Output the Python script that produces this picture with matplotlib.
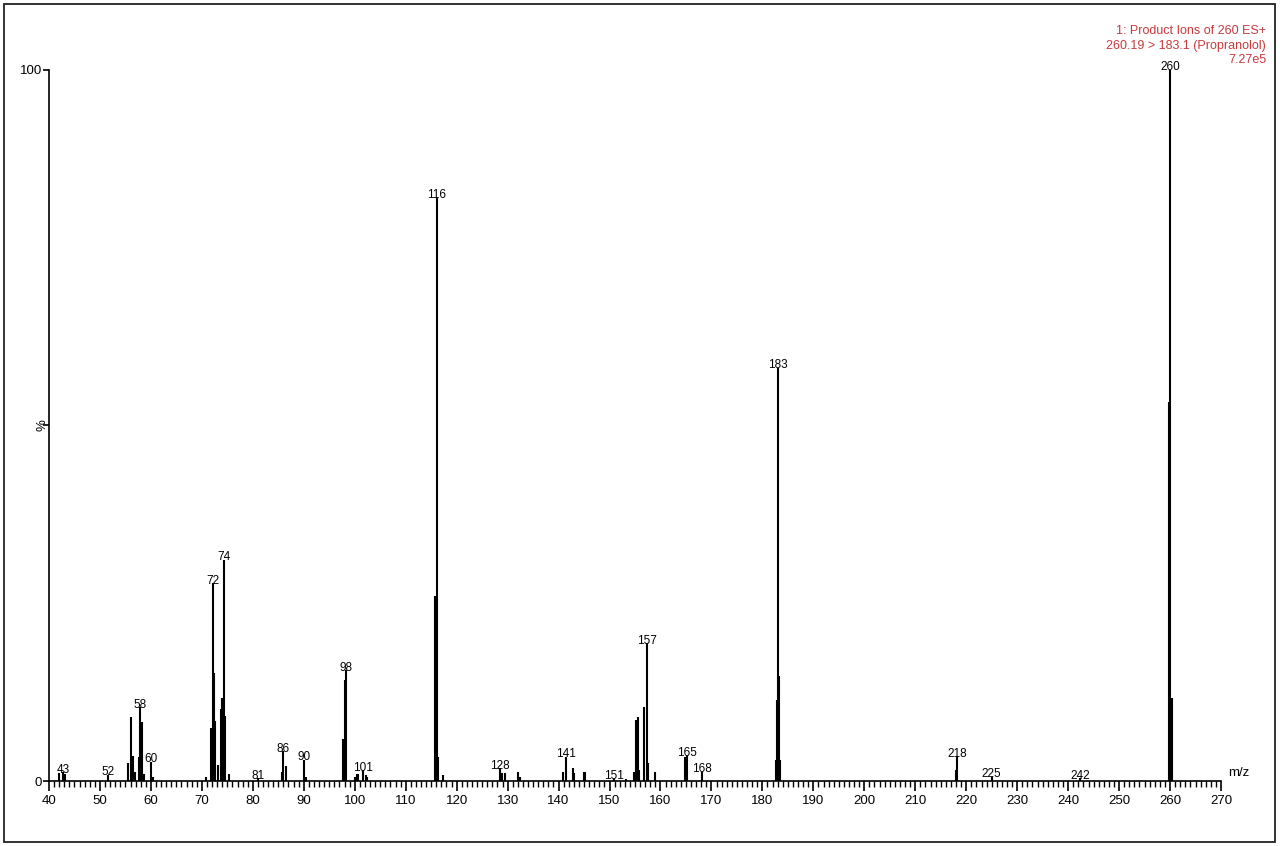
import matplotlib
matplotlib.use('Agg')
import matplotlib.pyplot as plt
from matplotlib.patches import Rectangle
from matplotlib.ticker import MultipleLocator

plt.rcParams['font.family'] = ['Liberation Sans', 'DejaVu Sans']

# ---------- 스펙트럼 데이터 (m/z, 상대강도 %) ----------

mz = [42.0, 42.7, 43.1, 51.6,
      55.6, 56.1, 56.5, 56.9, 57.7, 57.9, 58.3, 58.7, 60.0, 60.5,
      70.9, 71.7, 72.1, 72.4, 72.6, 73.2, 73.75, 74.0, 74.3, 74.5, 75.4,
      81.1, 85.65, 85.98, 86.45, 90.1, 90.4,
      97.6, 98.0, 98.3, 100.0, 100.4, 100.7, 101.6, 102.2, 102.5,
      115.75, 116.1, 116.3, 117.3,
      128.5, 128.9, 129.4, 132.0, 132.4,
      140.8, 141.4, 142.8, 143.1, 144.9, 145.2, 150.9, 153.2,
      154.9, 155.1, 155.5, 155.7, 156.8, 157.3, 157.5, 158.9,
      164.8, 165.25, 168.1,
      182.6, 182.9, 183.05, 183.25, 183.4,
      218.0, 218.25, 225.0, 242.3,
      259.8, 260.0, 260.3]

intensity = [1.1, 1.2, 1.0, 0.9,
             2.5, 9.0, 3.5, 1.2, 3.4, 10.4, 8.3, 1.0, 2.7, 0.6,
             0.6, 7.5, 27.8, 15.2, 8.4, 2.2, 10.1, 11.7, 31.1, 9.1, 1.0,
             0.4, 1.2, 4.2, 2.1, 3.0, 0.5,
             5.9, 14.2, 15.6, 0.6, 1.0, 1.0, 1.5, 0.8, 0.6,
             26.0, 82.0, 3.4, 0.8,
             1.8, 1.1, 1.1, 1.2, 0.6,
             1.2, 3.4, 1.8, 1.1, 1.3, 1.3, 0.3, 0.3,
             1.3, 8.6, 9.0, 1.5, 10.4, 19.4, 2.5, 1.3,
             3.4, 3.6, 1.3,
             3.0, 11.4, 58.1, 14.8, 3.0,
             1.6, 3.5, 0.6, 0.4,
             53.3, 100.0, 11.7]

# 라벨 붙는 피크
label_mz = [42.7, 51.6, 57.9, 60.0, 72.1, 74.3, 81.1, 85.98, 90.1, 98.3,
            101.6, 116.1, 128.5, 141.4, 150.9, 157.3, 165.25, 168.1,
            183.05, 218.25, 225.0, 242.3, 260.0]
label_text = ['43', '52', '58', '60', '72', '74', '81', '86', '90', '98',
              '101', '116', '128', '141', '151', '157', '165', '168',
              '183', '218', '225', '242', '260']

title_lines = ['1: Product Ions of 260 ES+',
               '260.19 > 183.1 (Propranolol)',
               '7.27e5']

# --------------------------------------------

fig = plt.figure(figsize=(12.8, 8.46), dpi=100)
ax = fig.add_axes([49 / 1280, 1 - 781 / 846, (1221 - 49) / 1280, (781 - 70) / 846])

ax.vlines(mz, 0, intensity, color='black', linewidth=1.5)

peak = dict(zip(mz, intensity))
for x, t in zip(label_mz, label_text):
    ax.annotate(t, (x, peak[x]), xytext=(0, -2.5), textcoords='offset points',
                ha='center', va='bottom', fontsize=8.5)

ax.set_xlim(40, 270)
ax.set_ylim(0, 100)

for s in ['top', 'right']:
    ax.spines[s].set_visible(False)
for s in ['left', 'bottom']:
    ax.spines[s].set_linewidth(1.2)

ax.xaxis.set_major_locator(MultipleLocator(10))
ax.xaxis.set_minor_locator(MultipleLocator(1))
ax.tick_params(axis='x', which='major', length=7, width=1.2, labelsize=9.5, pad=3)
ax.tick_params(axis='x', which='minor', length=4, width=1.0)

ax.set_yticks([0, 50, 100])
ax.set_yticklabels(['0', '', '100'])
ax.tick_params(axis='y', length=4, width=1.2, labelsize=9.5, pad=1)
ax.text(0.0, 50, '%', transform=ax.get_yaxis_transform(), rotation=90,
        ha='right', va='center', fontsize=9.5)

ax.text(1.006, 0.003, 'm/z', transform=ax.transAxes, ha='left', va='bottom', fontsize=9.5)

# 오른쪽 위 빨간 글씨 (줄마다 따로)
for i, line in enumerate(title_lines):
    fig.text(1266 / 1280, 1 - (31 + i * 14.5) / 846, line, ha='right', va='center',
             color='#c83a3c', fontsize=9)

# 바깥 테두리
fig.patches.append(Rectangle((4 / 1280, 4 / 846), 1271 / 1280, 838 / 846,
                             transform=fig.transFigure, fill=False,
                             edgecolor='#222222', linewidth=1.3))

fig.savefig('out.png', dpi=100)
